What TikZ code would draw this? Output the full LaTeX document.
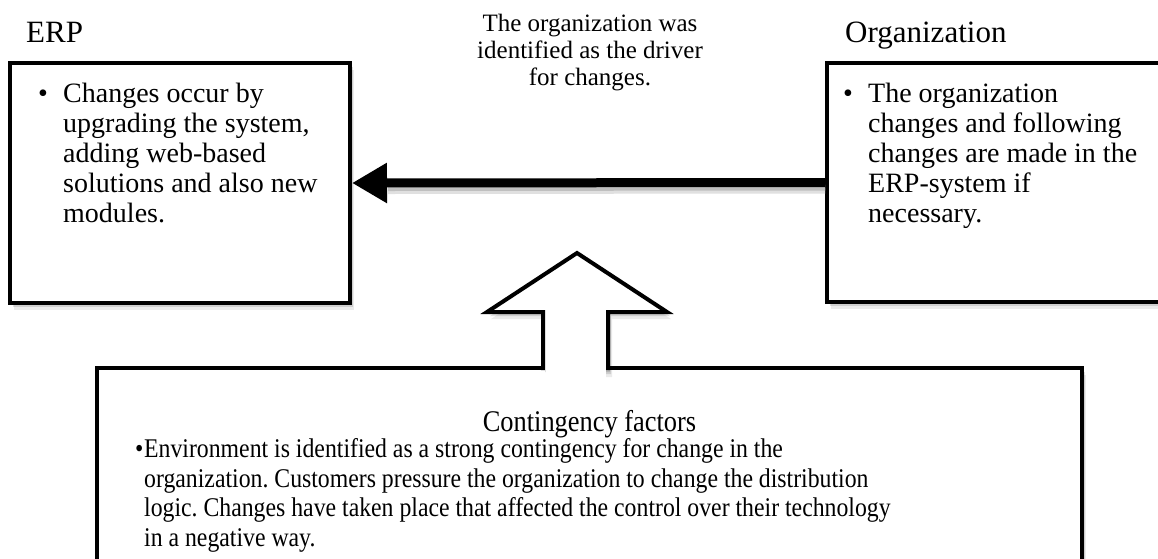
\documentclass[tikz,border=0pt]{standalone}
\usepackage{fontspec}
\setmainfont{Liberation Serif}
\newfontfamily\condfont[FakeStretch=0.88]{Liberation Serif}
\frenchspacing
\usetikzlibrary{arrows.meta,shadows}
\begin{document}
\begin{tikzpicture}[x=1pt,y=-1pt,
  softshadow/.style={
    general shadow={shadow xshift=2pt, shadow yshift=-2pt, fill=black, opacity=.12},
    general shadow={shadow xshift=3pt, shadow yshift=-4pt, fill=black, opacity=.12},
    general shadow={shadow xshift=4pt, shadow yshift=-7pt, fill=black, opacity=.08}},
  box/.style={draw=black, line width=4pt, fill=white, rectangle, inner sep=0pt, softshadow},
  lbl/.style={font=\fontsize{31}{36}\selectfont, anchor=base west, inner sep=0pt},
  body/.style={font=\fontsize{28}{30}\selectfont, anchor=north west, inner sep=0pt},
  cbody/.style={font=\condfont\fontsize{27}{29.5}\selectfont, anchor=north west, inner sep=0pt},
]
\useasboundingbox[fill=white] (0,0) rectangle (1158,558);

% boxes
\node[box, minimum width=340pt, minimum height=240pt] (erp) at (180,183) {};
\node[box, minimum width=343pt, minimum height=239pt] (org) at (998.5,182.5) {};
\node[box, minimum width=985pt, minimum height=212pt] (cont) at (589.5,474) {};

% headings
\node[lbl] (erplbl) at (26,42) {ERP};
\node[lbl] (orglbl) at (845,42) {Organization};

% middle label
\node[font=\fontsize{25}{27}\selectfont, align=center, inner sep=0pt] (drv) at (590,53)
  {The organization was\\identified as the driver\\for changes.};

% box texts
\node[body] (erptxt) at (38,81) {\begin{tabular}{@{}p{25pt}@{}l@{}}
\textbullet & Changes occur by\\
 & upgrading the system,\\
 & adding web-based\\
 & solutions and also new\\
 & modules.
\end{tabular}};
\node[body] (orgtxt) at (843,81) {\begin{tabular}{@{}p{25pt}@{}l@{}}
\textbullet & The organization\\
 & changes and following\\
 & changes are made in the\\
 & ERP-system if\\
 & necessary.
\end{tabular}};

% horizontal arrow
\draw[line width=6pt, black!12] ([yshift=-8pt]org.west) -- ([yshift=-8pt, xshift=36pt]erp.east);
\draw[line width=6pt, black!25] ([yshift=-5pt]org.west) -- ([yshift=-5pt, xshift=36pt]erp.east);
\draw[line width=9pt, -{Triangle[length=35pt,width=38pt]}] (org.west) -- (erp.east);

% block arrow from the contingency box
\coordinate (shl) at (543,370);
\coordinate (shr) at (608,370);
\coordinate (hl) at (487,312);
\coordinate (hr) at (667,312);
\coordinate (tip) at (577,253);
\draw[line width=4pt, line join=miter, fill=white, softshadow]
  (shl) -- (shl |- hl) -- (hl) -- (tip) -- (hr) -- (shr |- hr) -- (shr);
\fill[white] (545.5,312) rectangle (605.5,378);

% contingency text
\node[font=\condfont\fontsize{30}{33}\selectfont, inner sep=0pt] (ctitle) at (589.5,424) {Contingency factors};
\node[cbody] (ctxt) at (135,437) {\begin{tabular}{@{}p{9pt}@{}l@{}}
\textbullet & Environment is identified as a strong contingency for change in the\\
 & organization. Customers pressure the organization to change the distribution\\
 & logic. Changes have taken place that affected the control over their technology\\
 & in a negative way.
\end{tabular}};
\end{tikzpicture}
\end{document}
